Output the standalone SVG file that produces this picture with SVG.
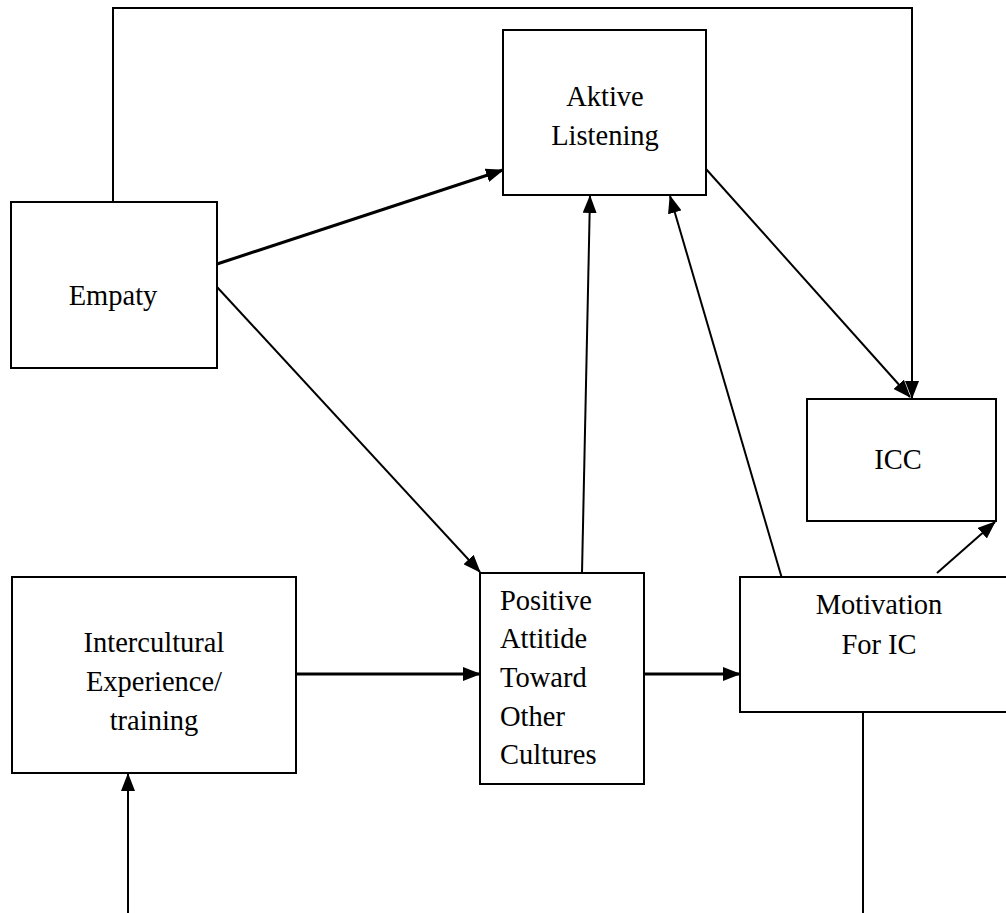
<svg xmlns="http://www.w3.org/2000/svg" width="1006" height="913" viewBox="0 0 1006 913">
<style>
.box{fill:#fff;stroke:#000;stroke-width:2}
.t{font-family:'Liberation Serif','DejaVu Serif',serif;font-size:28.5px;fill:#000}
.c{text-anchor:middle}
.ln{fill:none;stroke:#000;stroke-width:2}
.th{stroke-width:3}
</style>
<defs>
<marker id="ah" markerUnits="userSpaceOnUse" markerWidth="18" markerHeight="14" viewBox="0 0 18 14" refX="17" refY="7" orient="auto">
<path d="M0,0 L18,7 L0,14 Z" fill="#000"/>
</marker>
</defs>
<rect width="1006" height="913" fill="#fff"/>
<g id="connectors">
<polyline class="ln" points="113,202 113,8 912,8 912,398" marker-end="url(#ah)"/>
<line class="ln th" x1="217" y1="264" x2="503" y2="170" marker-end="url(#ah)"/>
<line class="ln" x1="217" y1="287" x2="480" y2="572" marker-end="url(#ah)"/>
<line class="ln" x1="582" y1="573" x2="590" y2="196" marker-end="url(#ah)"/>
<line class="ln" x1="783" y1="582" x2="670" y2="196" marker-end="url(#ah)"/>
<line class="ln" x1="706" y1="169" x2="910" y2="397" marker-end="url(#ah)"/>
<line class="ln" x1="937" y1="573" x2="995" y2="522" marker-end="url(#ah)"/>
<line class="ln th" x1="296" y1="674" x2="480" y2="674" marker-end="url(#ah)"/>
<line class="ln th" x1="644" y1="674" x2="740" y2="674" marker-end="url(#ah)"/>
<line class="ln" x1="128" y1="913" x2="128" y2="774" marker-end="url(#ah)"/>
<line class="ln" x1="863" y1="712" x2="863" y2="913"/>
</g>
<g id="aktive">
<rect class="box" x="503" y="30" width="203" height="165"/>
<text class="t c" font-family="Liberation Serif, serif" x="605" y="106">Aktive</text>
<text class="t c" font-family="Liberation Serif, serif" x="605" y="145">Listening</text>
</g>
<g id="empaty">
<rect class="box" x="11" y="202" width="206" height="166"/>
<text class="t c" x="113" y="305">Empaty</text>
</g>
<g id="icc">
<rect class="box" x="807" y="399" width="189" height="122"/>
<text class="t c" x="898" y="469">ICC</text>
</g>
<g id="intercultural">
<rect class="box" x="12" y="577" width="284" height="196"/>
<text class="t c" x="154" y="652">Intercultural</text>
<text class="t c" x="154" y="691">Experience/</text>
<text class="t c" x="154" y="730">training</text>
</g>
<g id="positive">
<rect class="box" x="480" y="573" width="164" height="211"/>
<text class="t" x="500" y="610">Positive</text>
<text class="t" x="500" y="648">Attitide</text>
<text class="t" x="500" y="687">Toward</text>
<text class="t" x="500" y="726">Other</text>
<text class="t" x="500" y="764">Cultures</text>
</g>
<g id="motivation">
<rect class="box" x="740" y="577" width="280" height="135"/>
<text class="t c" x="879" y="614">Motivation</text>
<text class="t c" x="879" y="654">For IC</text>
</g>
</svg>
